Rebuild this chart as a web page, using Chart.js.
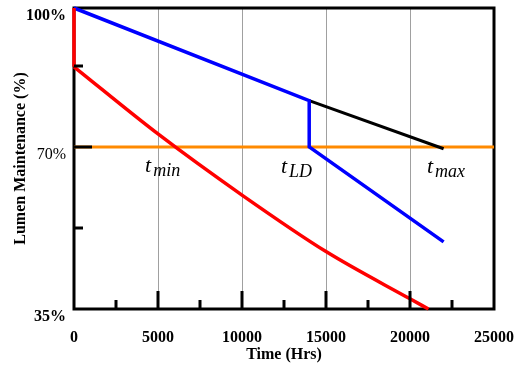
<!DOCTYPE html>
<html>
<head>
<meta charset="utf-8">
<script src="https://cdn.jsdelivr.net/npm/chart.js@4"></script>
<style>
    html, body { margin: 0; padding: 0; background: #fff; }
    #chart { display: block; }
</style>
</head>
<body>
<canvas id="chart" width="528" height="373"></canvas>
<script>
// --- Data ---
// red: instant drop at t=0, then a decaying curve
const redDropTime = [0, 0];
const redDropLM = [100, 87.3];
const redTime = [0, 5000, 10000, 15000, 20000, 21100];
const redLM = [87.3, 72.8, 59.6, 47.4, 37.2, 35];

const blueTime = [0, 14000, 14000, 22000];
const blueLM = [100, 80, 70, 49.5];

const blackTime = [14000, 22000];
const blackLM = [80, 69.6];

const orangeTime = [0, 25000];
const orangeLM = [70, 70];

const yTickValues = [35, 70, 100];
const xMajorMarks = [5000, 10000, 15000, 20000];
const xMinorMarks = [2500, 7500, 12500, 17500, 22500];
const yMajorMarks = [70];
const yMinorMarks = [52.5, 87.5];

// time labels on the chart (main letter + subscript)
const markerNames = ['min', 'LD', 'max'];
const markerTime = [4230, 12320, 21010];
const markerLM = [64.6, 64.4, 64.4];

const SERIF = '"Liberation Serif", "DejaVu Serif", serif';

function toPoints(xs, ys) {
    return xs.map((x, i) => ({ x: x, y: ys[i] }));
}

function lineSet(xs, ys, color, width, smooth) {
    return {
        data: toPoints(xs, ys),
        borderColor: color,
        backgroundColor: color,
        borderWidth: width,
        showLine: true,
        pointRadius: 0,
        cubicInterpolationMode: smooth ? 'monotone' : 'default',
        tension: 0,
        clip: 6
    };
}

// frame, inner tick marks and the t labels
const framePlugin = {
    id: 'frameTicks',
    beforeDatasetsDraw(chart) {
        const { ctx, chartArea: a } = chart;
        ctx.save();
        ctx.strokeStyle = '#000';
        ctx.lineWidth = 3;
        ctx.strokeRect(a.left, a.top, a.right - a.left, a.bottom - a.top);
        ctx.restore();
    },
    afterDatasetsDraw(chart) {
        const { ctx, chartArea: a, scales } = chart;
        ctx.save();
        ctx.strokeStyle = '#000';
        ctx.lineWidth = 3;
        const xTick = (v, len) => {
            const px = Math.round(scales.x.getPixelForValue(v));
            ctx.beginPath();
            ctx.moveTo(px, a.bottom);
            ctx.lineTo(px, a.bottom - len);
            ctx.stroke();
        };
        const yTick = (v, len) => {
            const py = Math.round(scales.y.getPixelForValue(v));
            ctx.beginPath();
            ctx.moveTo(a.left, py);
            ctx.lineTo(a.left + len, py);
            ctx.stroke();
        };
        xMajorMarks.forEach(v => xTick(v, 18));
        xMinorMarks.forEach(v => xTick(v, 9));
        yMajorMarks.forEach(v => yTick(v, 18));
        yMinorMarks.forEach(v => yTick(v, 9));

        // t labels
        ctx.fillStyle = '#000';
        ctx.textBaseline = 'alphabetic';
        ctx.textAlign = 'left';
        markerNames.forEach((name, i) => {
            const px = scales.x.getPixelForValue(markerTime[i]);
            const py = scales.y.getPixelForValue(markerLM[i]);
            ctx.font = 'italic 22px ' + SERIF;
            ctx.fillText('t', px, py);
            const w = ctx.measureText('t').width;
            ctx.font = 'italic 18px ' + SERIF;
            ctx.fillText(name, px + w + 2, py + 4);
        });
        ctx.restore();
    }
};

const chart = new Chart(document.getElementById('chart'), {
    type: 'scatter',
    data: {
        datasets: [
            lineSet(redDropTime, redDropLM, '#ff0000', 3.5, false),
            lineSet(redTime, redLM, '#ff0000', 3.5, true),
            lineSet(blueTime, blueLM, '#0000ff', 3.5, false),
            lineSet(blackTime, blackLM, '#000000', 3, false),
            lineSet(orangeTime, orangeLM, '#ff8a00', 3, false)
        ]
    },
    options: {
        responsive: false,
        animation: false,
        devicePixelRatio: 1,
        layout: { padding: { left: 0, top: 8, right: 34, bottom: 0 } },
        plugins: {
            legend: { display: false },
            tooltip: { enabled: false }
        },
        scales: {
            x: {
                type: 'linear',
                min: 0,
                max: 25000,
                afterFit: s => {
                    s.height = 64;
                    s.paddingLeft = 0;
                    s.paddingRight = 0;
                },
                border: { display: false },
                grid: {
                    drawTicks: false,
                    color: c => (c.tick && c.tick.value > 0 && c.tick.value < 25000) ? '#a0a0a0' : 'rgba(0,0,0,0)',
                    lineWidth: 1
                },
                ticks: {
                    stepSize: 5000,
                    padding: 19,
                    color: '#000',
                    maxRotation: 0,
                    callback: v => String(v),
                    font: { family: SERIF, size: 16, weight: 'bold' }
                },
                title: {
                    display: true,
                    text: 'Time (Hrs)',
                    color: '#000',
                    font: { family: SERIF, size: 16, weight: 'bold' },
                    padding: { top: 0, bottom: 9 }
                }
            },
            y: {
                min: 35,
                max: 100,
                afterFit: s => {
                    s.width = 74;
                    s.paddingTop = 0;
                    s.paddingBottom = 0;
                },
                afterBuildTicks: s => { s.ticks = yTickValues.map(v => ({ value: v })); },
                border: { display: false },
                grid: { display: false, drawTicks: false },
                ticks: {
                    padding: 8,
                    labelOffset: 8,
                    color: '#000',
                    callback: v => v + '%',
                    font: c => ({
                        family: SERIF,
                        size: 16,
                        weight: (c.tick && c.tick.value === 70) ? 'normal' : 'bold'
                    })
                },
                title: {
                    display: true,
                    text: 'Lumen Maintenance (%)',
                    color: '#000',
                    font: { family: SERIF, size: 16, weight: 'bold' },
                    padding: { top: 11, bottom: 0 }
                }
            }
        }
    },
    plugins: [framePlugin]
});
</script>
</body>
</html>
